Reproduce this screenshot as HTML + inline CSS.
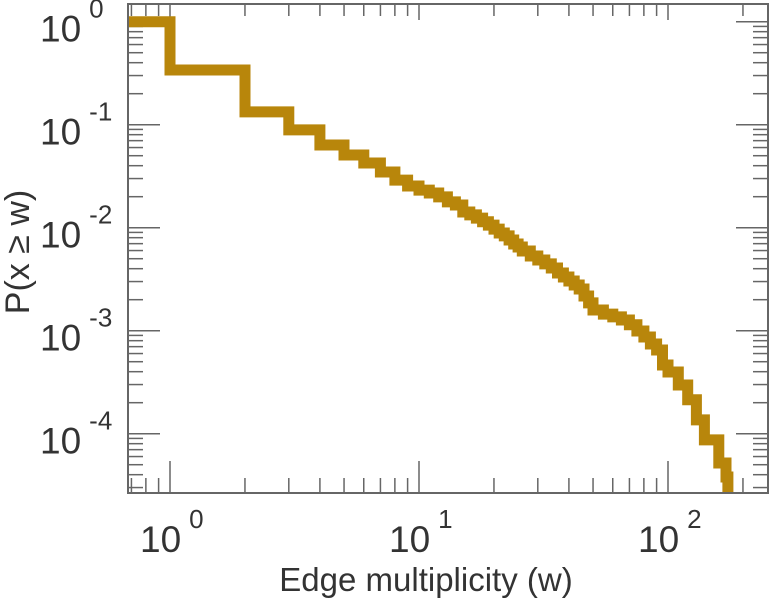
<!DOCTYPE html>
<html><head><meta charset="utf-8">
<style>
html,body{margin:0;padding:0;background:#fff;}
svg{display:block;font-family:"Liberation Sans",sans-serif;}
</style></head>
<body>
<svg id="chart" width="773" height="600" viewBox="0 0 773 600" xmlns="http://www.w3.org/2000/svg">
<defs><clipPath id="plotclip"><rect x="128" y="4" width="640" height="489"/></clipPath></defs>
<g id="grid"></g>
<path id="series" fill="none" stroke="#b8860b" stroke-width="11" stroke-linejoin="miter" stroke-linecap="butt" clip-path="url(#plotclip)"/>
<rect x="128" y="4" width="640" height="489" fill="none" stroke="#666" stroke-width="2"/>
<g id="labels" fill="#333"></g>
<text x="426" y="591" font-size="33" text-anchor="middle" fill="#333">Edge multiplicity (w)</text>
<text transform="translate(29,252) rotate(-90)" font-size="34" text-anchor="middle" fill="#333">P(x ≥ w)</text>
</svg>
<script>
const wValues = [0.5,1,2,3,4,5,6,7,8,9,10,11,12,13,14,15,16,17,18,19,20,21,22,23,24,25,26,28,30,32,34,36,38,40,42,44,46,48,50,55,60,65,70,75,80,85,90,95,100,110,120,130,140,160,171,174];
const pValues = [1,0.34,0.133,0.089,0.0635,0.0508,0.0425,0.0347,0.029,0.0254,0.0232,0.0217,0.0199,0.0178,0.0166,0.0142,0.0133,0.0124,0.0114,0.0106,0.0097,0.00889,0.00832,0.0076,0.00695,0.0065,0.00594,0.00531,0.00486,0.00445,0.00406,0.00363,0.00332,0.00304,0.00278,0.00254,0.00217,0.00186,0.00159,0.00145,0.00136,0.00127,0.00114,0.000993,0.000868,0.000743,0.000649,0.000464,0.000397,0.000297,0.000214,0.000136,0.0000871,0.000052,0.000038,0.00001];
const xDecades = [0,1,2];
const yDecades = [0,-1,-2,-3,-4];

const X0=170, XD=249, Y0=21.7, YD=103;
function xs(w){return X0+XD*Math.log10(w);}
function ys(p){return Y0-YD*Math.log10(p);}

let d='';
for(let i=0;i<wValues.length-1;i++){
  const x1=xs(wValues[i]), x2=xs(wValues[i+1]), y=ys(pValues[i]);
  d += (i===0?'M':'L')+x1.toFixed(1)+','+y.toFixed(1)+' L'+x2.toFixed(1)+','+y.toFixed(1)+' ';
  d += 'L'+x2.toFixed(1)+','+ys(pValues[i+1]).toFixed(1)+' ';
}
document.getElementById('series').setAttribute('d',d);

const NS='http://www.w3.org/2000/svg';
const g=document.getElementById('grid');
function line(x1,y1,x2,y2,name){
  const l=document.createElementNS(NS,'line');
  l.setAttribute('x1',x1);l.setAttribute('y1',y1);l.setAttribute('x2',x2);l.setAttribute('y2',y2);
  l.setAttribute('stroke','#666');l.setAttribute('stroke-width','1.5');
  
  
  g.appendChild(l);
}
for(let e=-1;e<=2;e++){
  for(let m=1;m<=9;m++){
    const x=xs(m*Math.pow(10,e));
    if(x<129||x>767) continue;
    const len=m===1?32:15, tl=m===1?16:12;
    line(x,493,x,493-len,'x-tick');
    line(x,4,x,4+tl,'x-tick-top');
  }
}
for(let e=-5;e<=0;e++){
  for(let m=1;m<=9;m++){
    const y=ys(m*Math.pow(10,e));
    if(y<5||y>492) continue;
    const len=m===1?32:15;
    line(128,y,128+len,y,'y-tick');
    line(768,y,768-len,y,'y-tick-right');
  }
}
const lab=document.getElementById('labels');
function label(x,y,base,sup,name){
  const t=document.createElementNS(NS,'text');
  t.setAttribute('x',x);t.setAttribute('y',y);t.setAttribute('font-size','37');
  
  
  t.textContent=base;
  const s=document.createElementNS(NS,'tspan');
  s.setAttribute('dx','8');s.setAttribute('dy','-24');s.setAttribute('font-size','26');
  s.textContent=sup;
  t.appendChild(s);
  lab.appendChild(t);
}
yDecades.forEach(e=>label(40,ys(Math.pow(10,e))+20,'10',String(e),'y-tick-label'));
xDecades.forEach(e=>label(xs(Math.pow(10,e))-30,552,'10',String(e),'x-tick-label'));
</script>
</body></html>
